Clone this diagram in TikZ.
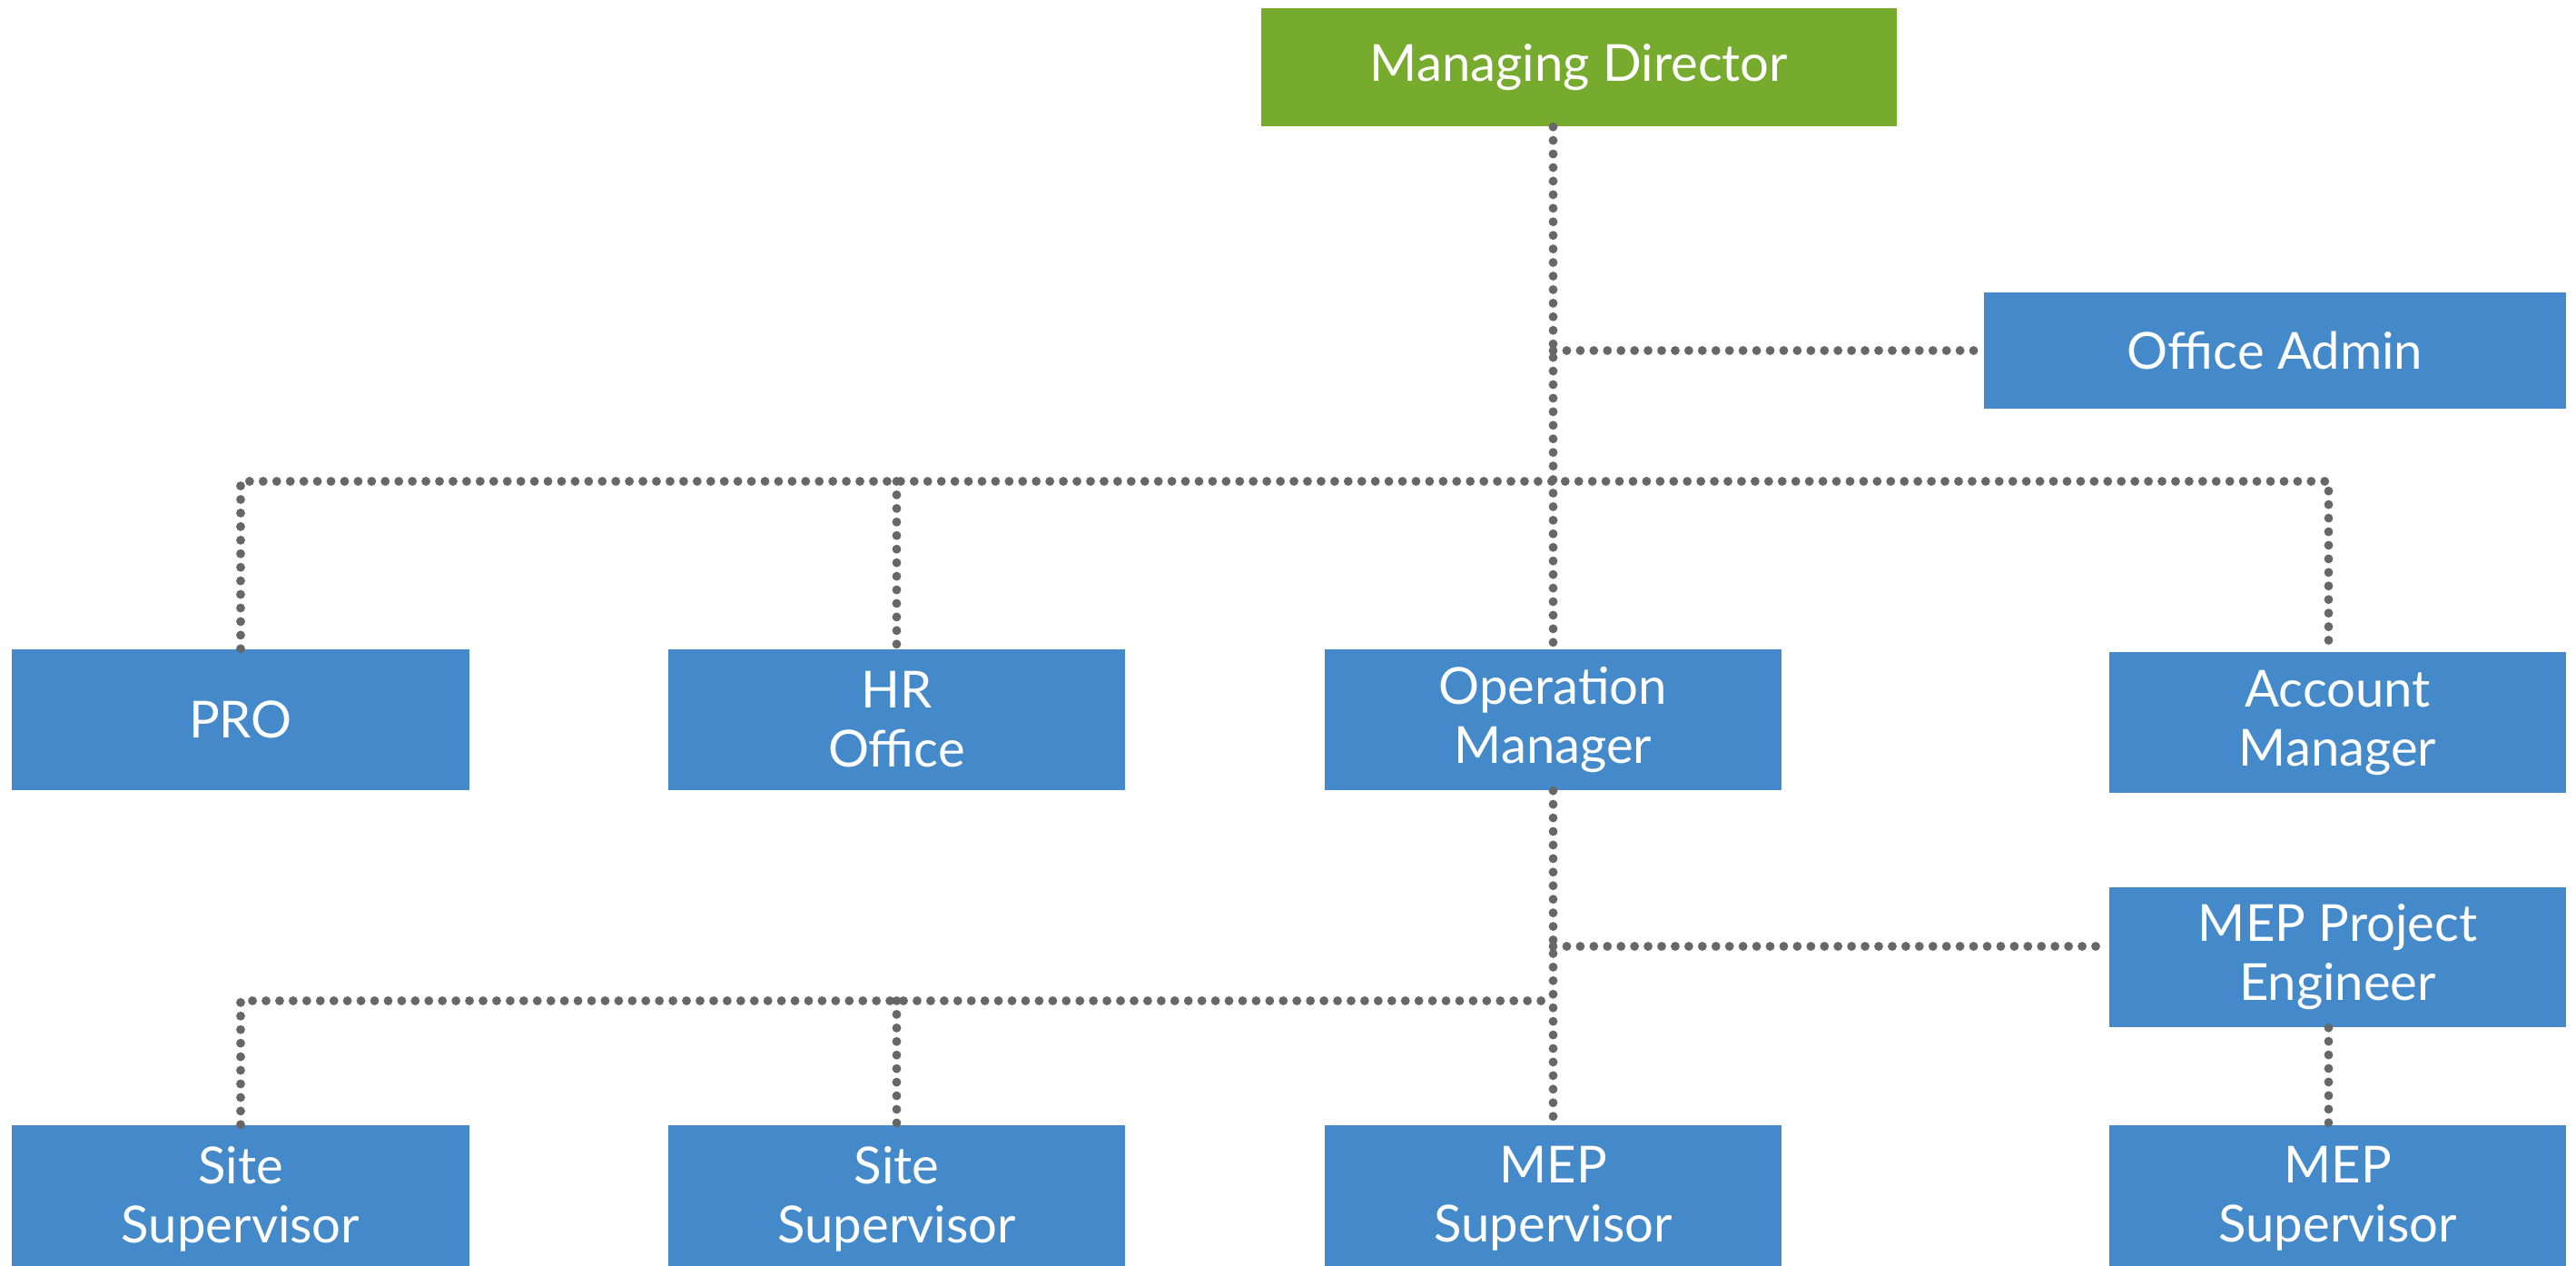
\documentclass[tikz,border=0pt]{standalone}
\usepackage{fontspec}
\setmainfont{Lato}
\definecolor{mdgreen}{HTML}{77AB2E}
\definecolor{roleblue}{HTML}{448ACA}
\definecolor{dotgray}{HTML}{676767}
\tikzset{
  role/.style={fill=roleblue, text=white, align=center, inner sep=0pt,
    minimum width=5.03cm, minimum height=1.55cm,
    font=\fontsize{16}{18.5}\selectfont},
  link/.style={draw=dotgray, line width=2.8pt, line cap=round,
    dash pattern=on 0pt off 4.25pt},
}

\begin{document}
\begin{tikzpicture}
			%%%%% START %%%%%
			
			\clip (0, 0) rectangle (28.37, 13.94);
			
			\node[role, fill=mdgreen, minimum width=7cm, minimum height=1.3cm] (md) at (17.39, 13.20) {Managing Director};
			\node[role, minimum width=6.41cm, minimum height=1.28cm] (admin) at (25.055, 10.08) {Office Admin};
			
			\node[role] (pro) at (2.65, 6.015) {PRO};
			\node[role] (hr) at (9.875, 6.015) {HR\\Office};
			\node[role] (om) at (17.105, 6.015) {Operation\\Manager};
			\node[role] (am) at (25.745, 5.98) {Account\\Manager};
			
			\node[role, minimum height=1.54cm] (mepeng) at (25.745, 3.40) {MEP Project\\Engineer};
			
			\node[role, minimum height=1.62cm] (site1) at (2.65, 0.74) {Site\\Supervisor};
			\node[role, minimum height=1.62cm] (site2) at (9.875, 0.74) {Site\\Supervisor};
			\node[role, minimum height=1.62cm] (mepsup1) at (17.105, 0.74) {MEP\\Supervisor};
			\node[role, minimum height=1.62cm] (mepsup2) at (25.745, 0.74) {MEP\\Supervisor};
			
			\coordinate (bus) at (0, 8.64);
			\coordinate (subbus) at (0, 2.92);
			
			\draw[link] (om.north |- md.south) -- (om.north);
			\draw[link] (admin.west -| om.north) -- (admin.west);
			
			\draw[link] (pro.north) -- (pro.north |- bus) -- ([xshift=-1mm]am.north |- bus) -- ([xshift=-1mm]am.north);
			\draw[link] (hr.north |- bus) -- (hr.north);
			
			\draw[link] (om.south) -- (mepsup1.north);
			\draw[link] ([yshift=1.2mm]mepeng.west -| om.south) -- ([yshift=1.2mm]mepeng.west);
			\draw[link] (site1.north) -- (site1.north |- subbus) -- (om.south |- subbus);
			\draw[link] (site2.north |- subbus) -- (site2.north);
			\draw[link] ([xshift=-1mm]mepeng.south) -- ([xshift=-1mm]mepsup2.north);
			
			%%%%% END %%%%%
\end{tikzpicture}
\end{document}
